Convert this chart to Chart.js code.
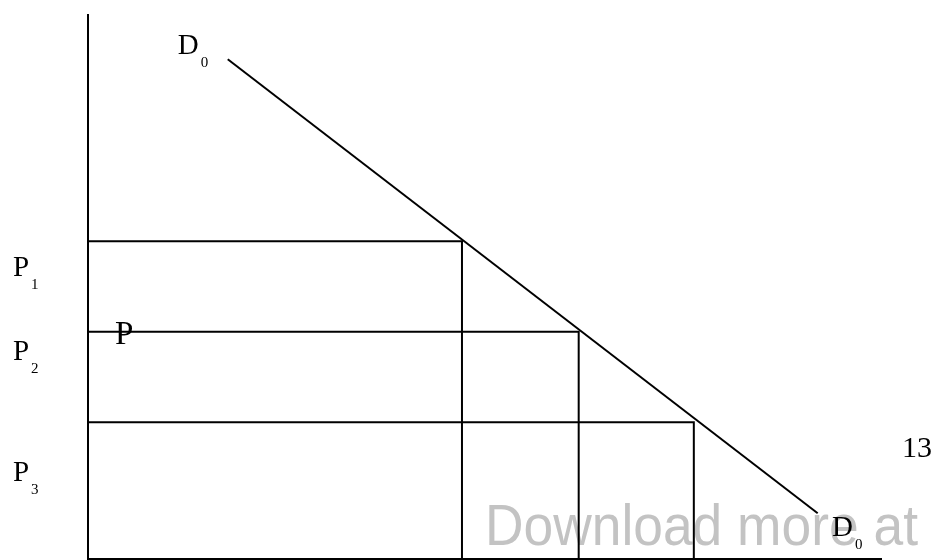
<!DOCTYPE html>
<html>
<head>
<meta charset="utf-8">
<script src="https://cdn.jsdelivr.net/npm/chart.js@4/dist/chart.umd.min.js"></script>
<style>
  html, body { margin: 0; padding: 0; background: #fff; }
  #wrap { width: 935px; height: 560px; position: relative; }
</style>
</head>
<body>
<div id="wrap"><canvas id="demand-chart" width="935" height="560"></canvas></div>
<script>
// ── Data (quantity / price units, 0..100 on both axes) ──

const QUANTITIES = [47.1, 61.8, 76.3];
const PRICES = [58.3, 41.7, 25.1];
const PRICE_LABELS = ["1", "2", "3"];

const DEMAND_Q = [17.6, 91.9];
const DEMAND_P = [91.7, 8.4];

// curve / point labels: [text, subscript, x, y]
const LABELS = [
    ["D", "0", 11.3, 92.7],
    ["D", "0", 93.7, 4.2],
];
const PRICE_LABEL_X = -9.45;
const PRICE_LABEL_Y = [51.9, 36.5, 14.3];
const POINT_LABEL = ["P", 3.4, 39.4];

const LINE_COLOR = "#000";
const SERIF = "'Liberation Serif', 'Times New Roman', serif";

function segment(points) {
    return {
        data: points,
        showLine: true,
        borderColor: LINE_COLOR,
        borderWidth: 2,
        pointRadius: 0,
        fill: false,
        clip: false,
    };
}

// ── Datasets ──

const datasets = [];
datasets.push(segment([{ x: 0, y: 100 }, { x: 0, y: 0 }, { x: 100, y: 0 }]));
QUANTITIES.forEach((q, i) => {
    datasets.push(segment([{ x: 0, y: PRICES[i] }, { x: q, y: PRICES[i] }, { x: q, y: 0 }]));
});
datasets.push(segment(DEMAND_Q.map((q, i) => ({ x: q, y: DEMAND_P[i] }))));

// ── Text plugins ──

function drawSubbed(ctx, text, sub, px, py, size) {
    ctx.font = size + "px " + SERIF;
    ctx.fillText(text, px, py);
    const w = ctx.measureText(text).width;
    ctx.font = "15px " + SERIF;
    ctx.fillText(sub, px + w + 2, py + 13);
}

const watermark = {
    id: "watermark",
    beforeDatasetsDraw(chart) {
        const ctx = chart.ctx;
        ctx.save();
        ctx.fillStyle = "#c3c3c3";
        ctx.font = "58px 'Liberation Sans', Arial, sans-serif";
        ctx.textBaseline = "alphabetic";
        ctx.fillText("Download more at", 485, 545, 433);
        ctx.restore();
    }
};

const labels = {
    id: "labels",
    afterDatasetsDraw(chart) {
        const ctx = chart.ctx;
        const xs = chart.scales.x, ys = chart.scales.y;
        ctx.save();
        ctx.fillStyle = "#000";
        ctx.textBaseline = "alphabetic";
        LABELS.forEach(([t, s, x, y]) => {
            drawSubbed(ctx, t, s, xs.getPixelForValue(x), ys.getPixelForValue(y), 29);
        });
        PRICE_LABELS.forEach((s, i) => {
            drawSubbed(ctx, "P", s, xs.getPixelForValue(PRICE_LABEL_X), ys.getPixelForValue(PRICE_LABEL_Y[i]), 29);
        });
        ctx.font = "33px " + SERIF;
        ctx.fillText(POINT_LABEL[0], xs.getPixelForValue(POINT_LABEL[1]), ys.getPixelForValue(POINT_LABEL[2]));
        ctx.font = "30px " + SERIF;
        ctx.fillText("13", 902, 457);
        ctx.restore();
    }
};

new Chart(document.getElementById("demand-chart"), {
    type: "scatter",
    data: { datasets: datasets },
    options: {
        responsive: false,
        animation: false,
        layout: { padding: { left: 88, top: 14, right: 53, bottom: 1 } },
        plugins: { legend: { display: false }, tooltip: { enabled: false } },
        scales: {
            x: { type: "linear", min: 0, max: 100, display: false },
            y: { type: "linear", min: 0, max: 100, display: false },
        },
    },
    plugins: [watermark, labels],
});
</script>
</body>
</html>
